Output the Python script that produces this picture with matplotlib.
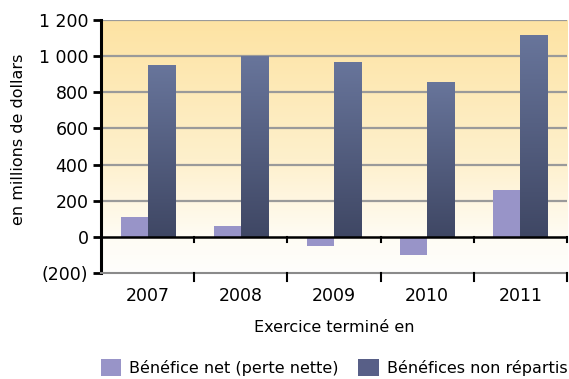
import numpy as np
import matplotlib.pyplot as plt
from matplotlib.ticker import FuncFormatter, FixedLocator
from matplotlib.colors import LinearSegmentedColormap
from matplotlib.patches import Patch

years = ["2007", "2008", "2009", "2010", "2011"]
net_income = [110, 60, -50, -100, 260]
retained = [950, 1000, 970, 860, 1120]
net_label = "Bénéfice net (perte nette)"
ret_label = "Bénéfices non répartis"

plt.rcParams["font.family"] = ["DejaVu Sans"]

fig = plt.figure(figsize=(5.69, 3.79), dpi=100)
ax = fig.add_axes([0.1775, 0.2797, 0.819, 0.6673])

x = np.arange(len(years))
w = 0.29
xlim = (-0.5, len(years) - 0.5)
ylim = (-200, 1200)

# background gradient (warm yellow at top fading to white)
bg = LinearSegmentedColormap.from_list(
    "bg", [(0.0, "#fefefc"), (0.14, "#fffcf4"), (0.45, "#fef0cc"), (1.0, "#fde3a3")])
ax.imshow(np.linspace(0, 1, 256).reshape(-1, 1), cmap=bg, aspect="auto",
          extent=[*xlim, *ylim], origin="lower", zorder=0)

for yv in range(200, 1201, 200):
    ax.axhline(yv, color="#9a9a9a", lw=1.6, zorder=1)

ax.bar(x - w / 2, net_income, w, color="#9894c8", zorder=3)
dark = ax.bar(x + w / 2, retained, w, color="none", zorder=3)
bar_cmap = LinearSegmentedColormap.from_list("bar", ["#3f4764", "#68759b"])
for b in dark:
    x0, y0, bw, bh = b.get_x(), b.get_y(), b.get_width(), b.get_height()
    im = ax.imshow(np.linspace(0, 1, 128).reshape(-1, 1), cmap=bar_cmap, aspect="auto",
                   extent=[x0, x0 + bw, y0, y0 + bh], origin="lower", zorder=3)
    im.set_clip_path(b)
ax.set_xlim(*xlim)
ax.set_ylim(*ylim)

# zero line and category separators
ax.axhline(0, color="black", lw=1.8, zorder=4)
seps = np.arange(len(years) - 1) + 0.5
for s in list(seps) + [xlim[1]]:
    ax.plot([s, s], [0, -28], color="black", lw=1.5, zorder=4, clip_on=False)
    ax.plot([s, s], [-200, -245], color="black", lw=1.5, zorder=4, clip_on=False)

ax.yaxis.set_major_locator(FixedLocator(range(-200, 1201, 200)))
ax.yaxis.set_major_formatter(FuncFormatter(
    lambda v, p: f"({abs(int(v))})" if v < 0 else f"{int(v):,}".replace(",", " ")))
ax.set_xticks(x)
ax.set_xticklabels(years)
ax.tick_params(axis="x", length=0, pad=10, labelsize=12.5)
ax.tick_params(axis="y", length=6, width=2, direction="out", pad=3, labelsize=12.5)

for side in ["top", "right"]:
    ax.spines[side].set_visible(False)
ax.spines["left"].set_linewidth(2.2)
ax.spines["bottom"].set_color("#8a8a8a")
ax.spines["bottom"].set_linewidth(1.5)

ax.set_ylabel("en millions de dollars", fontsize=11.5)
ax.yaxis.set_label_coords(-0.16, 0.53)
ax.set_xlabel("Exercice terminé en", fontsize=11.5, labelpad=11)

handles = [Patch(facecolor="#9894c8"), Patch(facecolor="#585f87")]
fig.legend(handles, [net_label, ret_label], loc="center", ncol=2,
           bbox_to_anchor=(0.587, 0.03), frameon=False, fontsize=11.5,
           handlelength=1.3, handleheight=1.3, columnspacing=1.2, handletextpad=0.5,
           borderpad=0, borderaxespad=0)

fig.savefig("out.png", dpi=100)
